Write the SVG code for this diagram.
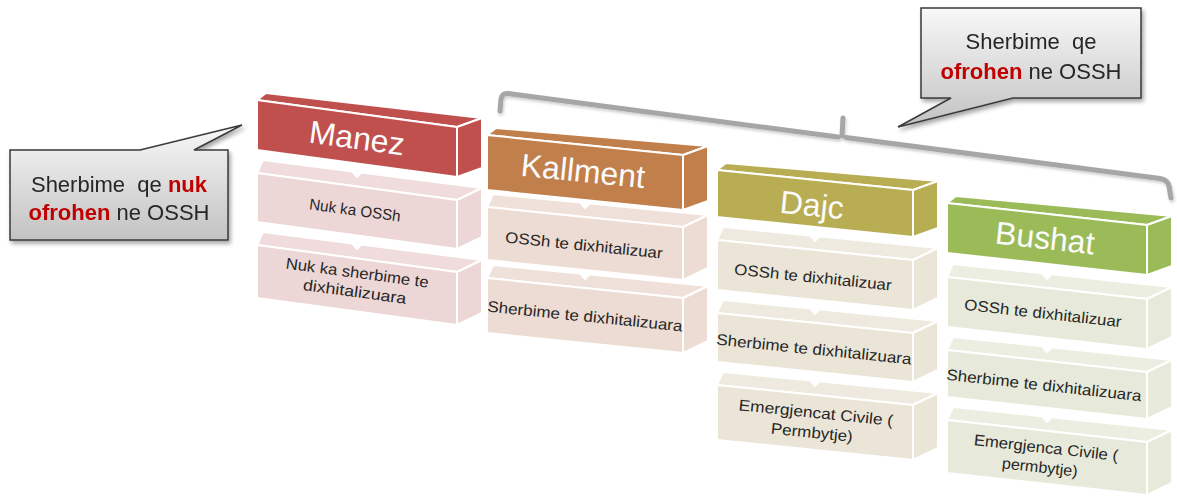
<svg xmlns="http://www.w3.org/2000/svg" width="1177" height="496" viewBox="0 0 1177 496">
<defs>
<linearGradient id="callout" x1="0" y1="0" x2="0" y2="1">
<stop offset="0" stop-color="#f8f8f8"/>
<stop offset="1" stop-color="#c2c2c2"/>
</linearGradient>
<filter id="shadow" x="-10%" y="-10%" width="130%" height="140%">
<feDropShadow dx="2" dy="3" stdDeviation="2" flood-color="#000" flood-opacity="0.35"/>
</filter>
<filter id="soft" x="-5%" y="-20%" width="110%" height="160%">
<feDropShadow dx="1" dy="2" stdDeviation="1.5" flood-color="#000" flood-opacity="0.2"/>
</filter>
</defs>
<style>
polygon{stroke:#ffffff;stroke-width:2;stroke-linejoin:round}
.hdr{font-family:"Liberation Sans",Arial,sans-serif;font-size:32px;fill:#fbfbfb;text-anchor:middle;dominant-baseline:central}
.row{font-family:"Liberation Sans",Arial,sans-serif;font-size:15.5px;fill:#262626;text-anchor:middle;dominant-baseline:central}
.co{font-family:"Liberation Sans",Arial,sans-serif;font-size:22px;fill:#262626;text-anchor:middle;white-space:pre}
.em{font-weight:bold;fill:#c00000}
.callout{fill:url(#callout);stroke:#3a3a3a;stroke-width:1.5;stroke-linejoin:miter}
.m-h{fill:#c0504d}.m-r{fill:#edd6d6}.m-t{fill:#f0dcdc}
.k-h{fill:#c17f4b}.k-r{fill:#ecdcd3}.k-t{fill:#efe1d9}
.d-h{fill:#b8ad53}.d-r{fill:#ebe5d8}.d-t{fill:#efeadf}
.b-h{fill:#9bbb59}.b-r{fill:#e7eada}.b-t{fill:#eceee1}
.chev{fill:#ffffff}
</style>

<g id="bracket" filter="url(#soft)">
<path d="M500,111 L501,99 Q502,93 508,93.5 L838,137 M842,136 L843,118 M846,137.5 L1160,178.5 Q1168,180 1169,186 L1171,198" fill="none" stroke="#a6a6a6" stroke-width="5" stroke-linecap="round" stroke-linejoin="round"/>
</g>

<!-- Manez column -->
<g id="manez-header">
<polygon class="m-h" points="257,100 266,93 482,118 457,127"/>
<polygon class="m-h" points="457,127 482,118 482,168 457,177"/>
<polygon class="m-h" points="257,100 457,127 457,177 257,150"/>
<text class="hdr" x="357" y="138" transform="rotate(7.7 357 138)">Manez</text>
</g>
<g id="manez-row1">
<polygon class="m-t" points="257,173 263,160 482,188 457,200"/>
<polygon class="m-r" points="457,200 482,188 482,237 457,249"/>
<polygon class="m-r" points="257,173 457,200 457,249 257,222"/>
<text class="row" x="355" y="210" transform="rotate(7.7 355 210)" textLength="92" lengthAdjust="spacingAndGlyphs">Nuk ka OSSh</text>
</g>
<g id="manez-row2">
<polygon class="m-t" points="257,245 263,232 482,260 457,272"/>
<polygon class="m-r" points="457,272 482,260 482,313 457,325"/>
<polygon class="m-r" points="257,245 457,272 457,325 257,298"/>
<text class="row" transform="rotate(7.7 356 282)"><tspan x="356" y="272" textLength="144" lengthAdjust="spacingAndGlyphs">Nuk ka sherbime te</tspan><tspan x="356" y="291" textLength="104" lengthAdjust="spacingAndGlyphs">dixhitalizuara</tspan></text>
</g>

<!-- Kallment column -->
<g id="kallment-header">
<polygon class="k-h" points="487,135 496,128 708,146 683,155"/>
<polygon class="k-h" points="683,155 708,146 708,201 683,210"/>
<polygon class="k-h" points="487,135 683,155 683,210 487,190"/>
<text class="hdr" x="583" y="171" transform="rotate(5.8 583 171)">Kallment</text>
</g>
<g id="kallment-row1">
<polygon class="k-t" points="487,207 493,194 708,215 683,227"/>
<polygon class="k-r" points="683,227 708,215 708,268 683,280"/>
<polygon class="k-r" points="487,207 683,227 683,280 487,260"/>
<text class="row" x="584" y="245" transform="rotate(5.8 584 245)" textLength="158" lengthAdjust="spacingAndGlyphs">OSSh te dixhitalizuar</text>
</g>
<g id="kallment-row2">
<polygon class="k-t" points="487,278 493,265 708,286 683,298"/>
<polygon class="k-r" points="683,298 708,286 708,341 683,353"/>
<polygon class="k-r" points="487,278 683,298 683,353 487,333"/>
<text class="row" x="585" y="316" transform="rotate(5.8 585 316)" textLength="196" lengthAdjust="spacingAndGlyphs">Sherbime te dixhitalizuara</text>
</g>

<!-- Dajc column -->
<g id="dajc-header">
<polygon class="d-h" points="717,170 726,163 938,181 913,190"/>
<polygon class="d-h" points="913,190 938,181 938,228 913,237"/>
<polygon class="d-h" points="717,170 913,190 913,237 717,217"/>
<text class="hdr" x="812" y="205" transform="rotate(5.8 812 205)">Dajc</text>
</g>
<g id="dajc-row1">
<polygon class="d-t" points="717,240 723,227 938,248 913,260"/>
<polygon class="d-r" points="913,260 938,248 938,298 913,310"/>
<polygon class="d-r" points="717,240 913,260 913,310 717,290"/>
<text class="row" x="813" y="277" transform="rotate(5.8 813 277)" textLength="158" lengthAdjust="spacingAndGlyphs">OSSh te dixhitalizuar</text>
</g>
<g id="dajc-row2">
<polygon class="d-t" points="717,313 723,300 938,321 913,333"/>
<polygon class="d-r" points="913,333 938,321 938,370 913,382"/>
<polygon class="d-r" points="717,313 913,333 913,382 717,362"/>
<text class="row" x="814" y="349" transform="rotate(5.8 814 349)" textLength="196" lengthAdjust="spacingAndGlyphs">Sherbime te dixhitalizuara</text>
</g>
<g id="dajc-row3">
<polygon class="d-t" points="717,385 723,372 938,393 913,405"/>
<polygon class="d-r" points="913,405 938,393 938,448 913,460"/>
<polygon class="d-r" points="717,385 913,405 913,460 717,440"/>
<text class="row" transform="rotate(5.8 815 422)"><tspan x="815" y="412" textLength="155" lengthAdjust="spacingAndGlyphs">Emergjencat Civile (</tspan><tspan x="813" y="432" textLength="82" lengthAdjust="spacingAndGlyphs">Permbytje)</tspan></text>
</g>

<!-- Bushat column -->
<g id="bushat-header">
<polygon class="b-h" points="947,203 956,196 1172,216 1147,225"/>
<polygon class="b-h" points="1147,225 1172,216 1172,266 1147,275"/>
<polygon class="b-h" points="947,203 1147,225 1147,275 947,253"/>
<text class="hdr" x="1045" y="238" transform="rotate(6.3 1045 238)">Bushat</text>
</g>
<g id="bushat-row1">
<polygon class="b-t" points="947,277 953,264 1172,287 1147,299"/>
<polygon class="b-r" points="1147,299 1172,287 1172,337 1147,349"/>
<polygon class="b-r" points="947,277 1147,299 1147,349 947,327"/>
<text class="row" x="1043" y="313" transform="rotate(6.3 1043 313)" textLength="158" lengthAdjust="spacingAndGlyphs">OSSh te dixhitalizuar</text>
</g>
<g id="bushat-row2">
<polygon class="b-t" points="947,350 953,337 1172,360 1147,372"/>
<polygon class="b-r" points="1147,372 1172,360 1172,407 1147,419"/>
<polygon class="b-r" points="947,350 1147,372 1147,419 947,397"/>
<text class="row" x="1044" y="385" transform="rotate(6.3 1044 385)" textLength="196" lengthAdjust="spacingAndGlyphs">Sherbime te dixhitalizuara</text>
</g>
<g id="bushat-row3">
<polygon class="b-t" points="947,420 953,407 1172,430 1147,442"/>
<polygon class="b-r" points="1147,442 1172,430 1172,483 1147,495"/>
<polygon class="b-r" points="947,420 1147,442 1147,495 947,473"/>
<text class="row" transform="rotate(6.3 1045 457)"><tspan x="1045" y="447" textLength="145" lengthAdjust="spacingAndGlyphs">Emergjenca Civile (</tspan><tspan x="1041" y="467" textLength="76" lengthAdjust="spacingAndGlyphs">permbytje)</tspan></text>
</g>

<g id="connectors">
<polygon class="chev" points="351,170 363,171 357,177"/>
<polygon class="chev" points="351,242 363,243 357,249"/>
<polygon class="chev" points="579,201 591,202 585,208"/>
<polygon class="chev" points="579,272 591,273 585,279"/>
<polygon class="chev" points="809,234 821,235 815,241"/>
<polygon class="chev" points="809,307 821,308 815,314"/>
<polygon class="chev" points="809,379 821,380 815,386"/>
<polygon class="chev" points="1041,272 1053,273 1047,279"/>
<polygon class="chev" points="1041,345 1053,346 1047,352"/>
<polygon class="chev" points="1041,415 1053,416 1047,422"/>
</g>

<g id="callout-nuk" filter="url(#shadow)">
<path class="callout" d="M10,150 L140,150 L242,125 L194,150 L228,150 L228,240 L10,240 Z"/>
<text class="co" x="119" y="192">Sherbime  qe <tspan class="em">nuk</tspan></text>
<text class="co" x="119" y="220"><tspan class="em">ofrohen</tspan> ne OSSH</text>
</g>

<g id="callout-ofrohen" filter="url(#shadow)">
<path class="callout" d="M921,8 L1141,8 L1141,98 L1013,98 L898,127 L951,98 L921,98 Z"/>
<text class="co" x="1031" y="49">Sherbime  qe</text>
<text class="co" x="1031" y="79"><tspan class="em">ofrohen</tspan> ne OSSH</text>
</g>
</svg>
